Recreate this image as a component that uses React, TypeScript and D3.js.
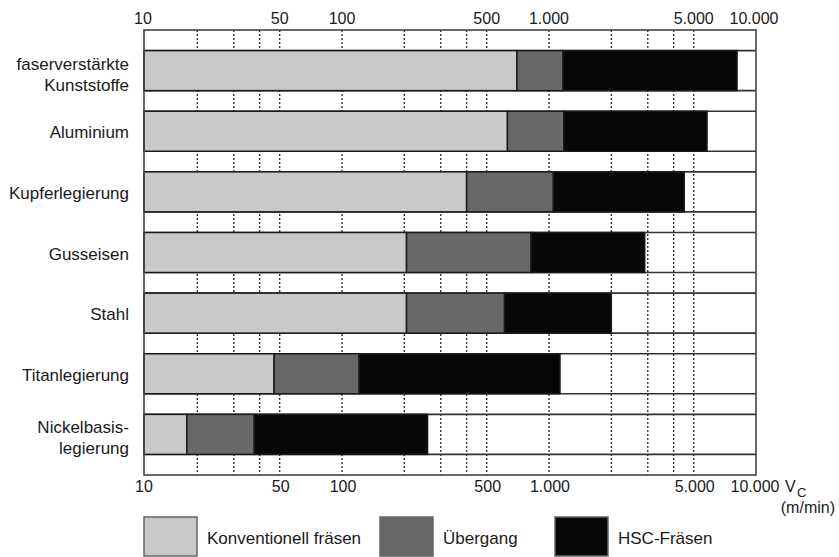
import React from "react";
import * as d3 from "d3";

const categories: string[][] = [
  ["faserverstärkte", "Kunststoffe"],
  ["Aluminium"],
  ["Kupferlegierung"],
  ["Gusseisen"],
  ["Stahl"],
  ["Titanlegierung"],
  ["Nickelbasis-", "legierung"],
];
const konventionell: number[] = [700, 630, 400, 205, 205, 47, 17.8];
const uebergang: number[] = [1170, 1180, 1050, 820, 610, 121, 37.7];
const hscFraesen: number[] = [8100, 5800, 4500, 2900, 2000, 1130, 259];

const gridValues: number[] = [20, 30, 40, 50, 100, 200, 300, 400, 500, 1000, 2000, 3000, 4000, 5000];
const tickValues: number[] = [10, 50, 100, 500, 1000, 5000, 10000];
const tickLabels: string[] = ["10", "50", "100", "500", "1.000", "5.000", "10.000"];

const seriesNames: string[] = ["Konventionell fräsen", "Übergang", "HSC-Fräsen"];
const seriesColors: string[] = ["#c9c9c9", "#686868", "#070707"];

const W = 839;
const H = 557;
const plotLeft = 144;
const plotTop = 30;
const plotBottom = 475;
const FONT = "'Liberation Sans', Arial, Helvetica, sans-serif";

export default function App() {
  const x = d3.scaleLog().domain([10, 10000]).range([135, 756]);
  const plotRight = x(10000);
  const ids = categories.map((_, i) => String(i));
  const y = d3
    .scaleBand<string>()
    .domain(ids)
    .range([plotTop, plotBottom])
    .paddingInner(0.34)
    .paddingOuter(0.34);
  const bw = y.bandwidth();

  const tickX = (v: number) => (v === 10 ? plotLeft - 1 : x(v) - (v === 10000 ? 2 : 0));

  return (
    <svg
      width={W}
      height={H}
      style={{ position: "absolute", left: 0, top: 0, background: "#fff" }}
      fontFamily={FONT}
    >
      <rect x={0} y={0} width={W} height={H} fill="#fff" />
      {/* grid */}
      {gridValues.map((v) => (
        <line
          key={"g" + v}
          x1={x(v)}
          x2={x(v)}
          y1={plotTop}
          y2={plotBottom}
          stroke="#333"
          strokeWidth={1.4}
          strokeDasharray="2,2"
        />
      ))}
      {/* row lines */}
      {ids.map((id) => (
        <g key={"rl" + id}>
          <line x1={plotLeft} x2={plotRight} y1={y(id)!} y2={y(id)!} stroke="#333" strokeWidth={1.6} />
          <line x1={plotLeft} x2={plotRight} y1={y(id)! + bw} y2={y(id)! + bw} stroke="#333" strokeWidth={1.6} />
        </g>
      ))}
      {/* bars */}
      {ids.map((id, i) => {
        const ends = [konventionell[i], uebergang[i], hscFraesen[i]];
        return (
          <g key={"b" + id}>
            {ends.map((e, k) => {
              const x0 = k === 0 ? plotLeft : x(ends[k - 1]);
              const x1 = x(e);
              return (
                <rect
                  key={k}
                  x={x0}
                  y={y(id)!}
                  width={x1 - x0}
                  height={bw}
                  fill={seriesColors[k]}
                  stroke="#1a1a1a"
                  strokeWidth={1.5}
                />
              );
            })}
          </g>
        );
      })}
      {/* frame */}
      <rect
        x={plotLeft}
        y={plotTop}
        width={plotRight - plotLeft}
        height={plotBottom - plotTop}
        fill="none"
        stroke="#444"
        strokeWidth={1.6}
      />
      {/* tick labels */}
      {tickValues.map((v, i) => (
        <g key={"t" + v} fontSize={16} fill="#1a1a1a" textAnchor="middle">
          <text x={tickX(v)} y={24}>{tickLabels[i]}</text>
          <text x={tickX(v) + 1} y={492}>{tickLabels[i]}</text>
        </g>
      ))}
      <text x={785} y={492} fontSize={16} fill="#1a1a1a">V</text>
      <text x={797} y={497} fontSize={13} fill="#1a1a1a">C</text>
      <text x={835} y={513} fontSize={16} fill="#1a1a1a" textAnchor="end">(m/min)</text>
      {/* category labels */}
      {ids.map((id, i) => {
        const c = y(id)! + bw / 2;
        const lines = categories[i];
        return (
          <text key={"c" + id} fontSize={17} fill="#1a1a1a" textAnchor="end">
            {lines.length === 1 ? (
              <tspan x={129} y={c + 7}>{lines[0]}</tspan>
            ) : (
              lines.map((l, j) => (
                <tspan key={j} x={129} y={c - 1 + j * 21}>{l}</tspan>
              ))
            )}
          </text>
        );
      })}
      {/* legend */}
      {seriesNames.map((n, k) => {
        const lx = [144, 380, 555][k];
        return (
          <g key={"l" + k}>
            <rect x={lx} y={517} width={53} height={39} fill={seriesColors[k]} stroke="#666" strokeWidth={1.5} />
            <text x={lx + 63} y={544} fontSize={17} fill="#1a1a1a">{n}</text>
          </g>
        );
      })}
    </svg>
  );
}
